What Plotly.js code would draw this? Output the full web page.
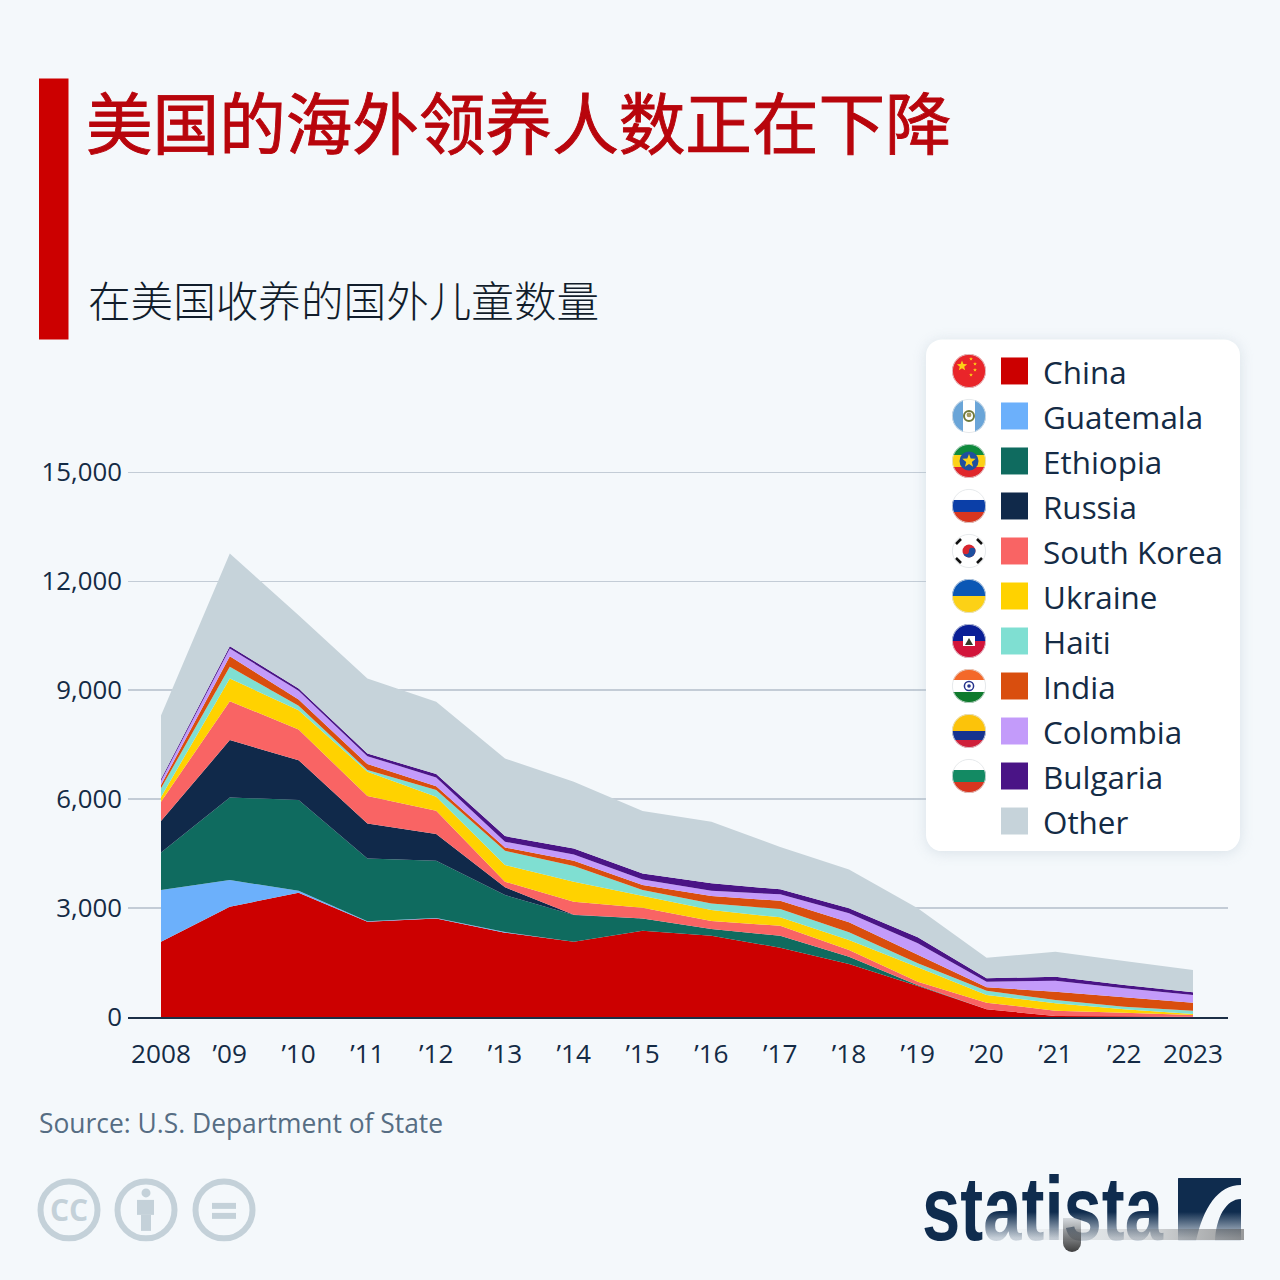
<!DOCTYPE html>
<html><head><meta charset="utf-8">
<script src="https://cdn.plot.ly/plotly-3.0.1.min.js"></script>
<style>html,body{margin:0;padding:0;background:#f4f8fb}#wrap{position:relative;width:1280px;height:1280px;overflow:hidden}#chart{width:1280px;height:1280px}
.ov{position:absolute;pointer-events:none}
#logo{left:922px;top:1164px;font:bold 90px/90px 'Liberation Sans',sans-serif;color:#0f2c4e;transform:scaleX(.765);transform-origin:left top;white-space:nowrap}</style></head>
<body><div id="wrap"><div id="chart"></div>
<div id="logo" class="ov">statista</div>
<div class="ov" style="left:985px;top:1212px;width:270px;height:40px;background:linear-gradient(to bottom,rgba(244,248,251,0),rgba(244,248,251,.8) 65%,rgba(244,248,251,.93))"></div>
<div class="ov" style="left:1000px;top:1229px;width:244px;height:11px;background:linear-gradient(to right,rgba(120,120,120,0),rgba(120,120,120,.25) 60%,rgba(90,90,90,.6))"></div>
<div class="ov" style="left:1063px;top:1218px;width:18px;height:34px;border-radius:0 0 9px 9px;background:linear-gradient(to bottom,rgba(30,40,50,.15),rgba(30,30,30,.85))"></div>
</div>
<script>
const years = [2008,2009,2010,2011,2012,2013,2014,2015,2016,2017,2018,2019,2020,2021,2022,2023];
const yearLabels = ["2008","’09","’10","’11","’12","’13","’14","’15","’16","’17","’18","’19","’20","’21","’22","2023"];
const china     = [2072,3035,3422,2624,2716,2321,2073,2376,2238,1908,1459,853,212,28,19,5];
const guatemala = [1424,735,55,16,9,19,0,0,0,0,0,0,0,0,0,0];
const ethiopia  = [1034,2277,2496,1727,1578,1018,735,340,184,330,201,20,0,0,0,0];
const russia    = [865,1578,1101,964,734,212,7,0,0,0,0,0,0,0,0,0];
const southKorea= [535,1073,844,752,642,155,359,294,220,275,184,99,182,146,99,50];
const ukraine   = [130,624,532,670,385,459,551,320,303,231,275,396,211,203,94,28];
const haiti     = [240,321,120,46,184,393,431,166,184,229,212,110,119,91,72,91];
const india     = [86,294,174,165,110,93,147,137,201,228,275,228,93,228,258,220];
const colombia  = [118,211,238,220,239,156,174,157,147,176,248,322,155,304,248,211];
const bulgaria  = [47,64,65,73,92,156,166,165,203,138,138,165,93,110,91,75];
const other     = [1749,2551,2018,2065,1991,2138,1834,1715,1696,1165,1073,799,567,687,660,614];
const seriesNames = ["China","Guatemala","Ethiopia","Russia","South Korea","Ukraine","Haiti","India","Colombia","Bulgaria","Other"];
const seriesValues = [china,guatemala,ethiopia,russia,southKorea,ukraine,haiti,india,colombia,bulgaria,other];
const seriesColors = ["#cc0000","#6cb0fb","#0f6b5f","#10294a","#f96464","#ffd200","#7fdfd2","#d94e0e","#c39bfa","#4a1486","#c6d3da"];
const yTicks = [0,3000,6000,9000,12000,15000];
const titleText = "美国的海外领养人数正在下降";
const subtitleText = "在美国收养的国外儿童数量";
const sourceText = "Source: U.S. Department of State";

const L=128,R=1228,B=1017,yMax=16000,T=B-yMax*(545/15000);
const px=x=>(x-L)/(R-L), py=y=>(B-y)/(B-T);
const svgUri=(w,h,inner)=>"data:image/svg+xml;charset=utf-8,"+encodeURIComponent(`<svg xmlns="http://www.w3.org/2000/svg" width="${w}" height="${h}" viewBox="0 0 ${w} ${h}">${inner}</svg>`);
const img=(x,y,w,h,src)=>({source:src,xref:"paper",yref:"paper",x:px(x),y:py(y),sizex:w/(R-L),sizey:h/(B-T),xanchor:"left",yanchor:"top",sizing:"stretch",layer:"above"});
const flag=(inner)=>svgUri(36,36,`<defs><clipPath id="c"><circle cx="18" cy="18" r="17"/></clipPath></defs><g clip-path="url(#c)"><rect width="36" height="36" fill="#fff"/>${inner}</g><circle cx="18" cy="18" r="16.6" fill="none" stroke="#dfe3e6" stroke-width=".8"/>`);
const h3=(a,b,c)=>`<rect width="36" height="12.5" fill="${a}"/><rect y="12" width="36" height="12" fill="${b}"/><rect y="24" width="36" height="12" fill="${c}"/>`;
const star=(x,y,r,col)=>{let p=[];for(let i=0;i<10;i++){const a=-Math.PI/2+i*Math.PI/5,q=i%2?r*.42:r;p.push((x+q*Math.cos(a)).toFixed(1)+","+(y+q*Math.sin(a)).toFixed(1));}return `<polygon points="${p.join(" ")}" fill="${col}"/>`;};
const flags=[
 `<rect width="36" height="36" fill="#e9252a"/>`+star(11,13,5.5,"#fcd116")+star(20,6,2,"#fcd116")+star(24,11,2,"#fcd116")+star(24,17,2,"#fcd116")+star(20,22,2,"#fcd116"),
 `<rect width="12" height="36" fill="#6aa5d8"/><rect x="24" width="12" height="36" fill="#6aa5d8"/><circle cx="18" cy="18" r="5" fill="none" stroke="#6f7a3c" stroke-width="2"/><circle cx="18" cy="17" r="2.4" fill="#a39a5e"/>`,
 h3("#0f8a3c","#fcd116","#e0262b")+`<circle cx="18" cy="18" r="9.5" fill="#1f4f9e"/>`+star(18,18,7,"#fcd116"),
 h3("#ffffff","#0b3fa8","#d8361f"),
 `<circle cx="18" cy="18" r="6.5" fill="#d8262f"/><path d="M11.5 18a6.5 6.5 0 0 0 13 0a3.2 3.2 0 0 0-6.5 0a3.2 3.2 0 0 1-6.5 0z" fill="#1f4f9e"/><g stroke="#111" stroke-width="2.6"><path d="M5 11l5-5M26 6l5 5M5 25l5 5M26 30l5-5"/></g>`,
 `<rect width="36" height="18" fill="#0b57b5"/><rect y="18" width="36" height="18" fill="#fcd116"/>`,
 `<rect width="36" height="18" fill="#0a1f96"/><rect y="18" width="36" height="18" fill="#d2143a"/><rect x="12" y="13" width="12" height="10" fill="#fff"/><path d="M14 22l4-7 4 7z" fill="#2f3a2a"/>`,
 h3("#f4692a","#ffffff","#0f7a2d")+`<circle cx="18" cy="18" r="4.6" fill="none" stroke="#26338c" stroke-width="1.5"/><circle cx="18" cy="18" r="1.8" fill="#26338c"/>`,
 `<rect width="36" height="18" fill="#fcc30a"/><rect y="18" width="36" height="9" fill="#15338f"/><rect y="27" width="36" height="9" fill="#cf1f3a"/>`,
 h3("#ffffff","#138a63","#d8361f")
];

const traces=seriesNames.map((n,i)=>({type:"scatter",mode:"lines",name:n,x:years,y:seriesValues[i],stackgroup:"one",
  line:{width:0,color:seriesColors[i]},fillcolor:seriesColors[i],hoverinfo:"skip",showlegend:false}));

const ink="#142b45", iconC="#c4d1d9", brand="#0f2c4e";
const ann=(x,y,text,size,color,extra)=>Object.assign({xref:"paper",yref:"paper",x:px(x),y:py(y),text,showarrow:false,xanchor:"left",yanchor:"middle",
   font:{size,color,family:"'Open Sans',sans-serif"}},extra||{});
const rect=(x0,y0,x1,y1,fill)=>({type:"rect",xref:"paper",yref:"paper",x0:px(x0),x1:px(x1),y0:py(y0),y1:py(y1),fillcolor:fill,line:{width:0},layer:"above"});
const circ=(cx,cy,r,fill,stroke,w)=>({type:"circle",xref:"paper",yref:"paper",x0:px(cx-r),x1:px(cx+r),y0:py(cy-r),y1:py(cy+r),fillcolor:fill,line:{width:w||0,color:stroke||fill},layer:"above"});

const rowY=i=>370.6+45.03*i;
const images=[
 img(896,309,374,572,svgUri(374,572,`<defs><filter id="s" x="-20%" y="-20%" width="140%" height="140%"><feGaussianBlur stdDeviation="7"/></filter></defs><rect x="30" y="32" width="314" height="512" rx="16" fill="#b8c6d2" opacity=".45" filter="url(#s)"/><rect x="30" y="30" width="314" height="512" rx="16" fill="#fff"/>`)),
 img(1178,1178,63,63,svgUri(63,63,`<rect width="63" height="63" rx="1" fill="${brand}"/><path d="M63 7C40 7 25 30 18 63L37 63C38 40 48 21 63 21Z" fill="#f4f8fb"/>`))
];
flags.forEach((f,i)=>images.push(img(951,rowY(i)-18,36,36,flag(f))));

const shapes=[
 rect(39,78,68.5,339,"#cc0000"),
 circ(69,1210,28.5,"rgba(0,0,0,0)",iconC,6), circ(146,1210,28.5,"rgba(0,0,0,0)",iconC,6), circ(224,1210,28.5,"rgba(0,0,0,0)",iconC,6),
 circ(146,1193,4.5,iconC), rect(137,1200,154,1215,iconC), rect(141,1215,151,1231,iconC),
 rect(212,1203,236,1209,iconC), rect(212,1213,236,1219,iconC)
];
seriesNames.forEach((n,i)=>shapes.push(rect(1001,rowY(i)-13.5,1028,rowY(i)+13.5,seriesColors[i])));

const annotations=[
 ann(84,119,titleText,66.6,"#b8050c",{font:{size:66.6,weight:400,color:"#b8050c",family:"'Noto Sans CJK SC',sans-serif"}}),
 ann(86,298,subtitleText,42.6,"#111d2b",{font:{size:42.6,weight:300,color:"#111d2b",family:"'Noto Sans CJK SC',sans-serif"}}),
 ann(37,1123,sourceText,26.4,"#566d83"),
 ann(69,1210,"<b>CC</b>",30,iconC,{xanchor:"center"})
];
seriesNames.forEach((n,i)=>annotations.push(ann(1041,rowY(i)+0.5,n,31.4,ink)));

const layout={width:1280,height:1280,autosize:false,paper_bgcolor:"#f4f8fb",plot_bgcolor:"#f4f8fb",showlegend:false,
 margin:{l:L,r:1280-R,t:T,b:1280-B,pad:0},
 xaxis:{type:"linear",range:[2008-33/68.8,2023+35/68.8],tickmode:"array",tickvals:years,ticktext:yearLabels,showgrid:false,zeroline:false,
   showline:true,linecolor:"#1c2f46",linewidth:1.5,ticks:"outside",ticklen:13,tickcolor:"rgba(0,0,0,0)",tickfont:{size:26.2,color:ink,family:"'Open Sans',sans-serif"}},
 yaxis:{range:[0,yMax],tickmode:"array",tickvals:yTicks,tickformat:",d",showgrid:true,gridcolor:"#c3ccd6",gridwidth:1.5,zeroline:false,showline:false,
   ticks:"",ticklen:0,ticklabelstandoff:5,tickfont:{size:25.8,color:ink,family:"'Open Sans',sans-serif"}},
 images,shapes,annotations};
Plotly.newPlot("chart",traces,layout,{displayModeBar:false,staticPlot:true}).then(()=>{
  document.querySelectorAll("#chart .annotation-text").forEach(t=>{
    if(t.textContent===titleText){t.style.stroke="#b8050c";t.style.strokeWidth="0.9px";}
  });
});
</script></body></html>
